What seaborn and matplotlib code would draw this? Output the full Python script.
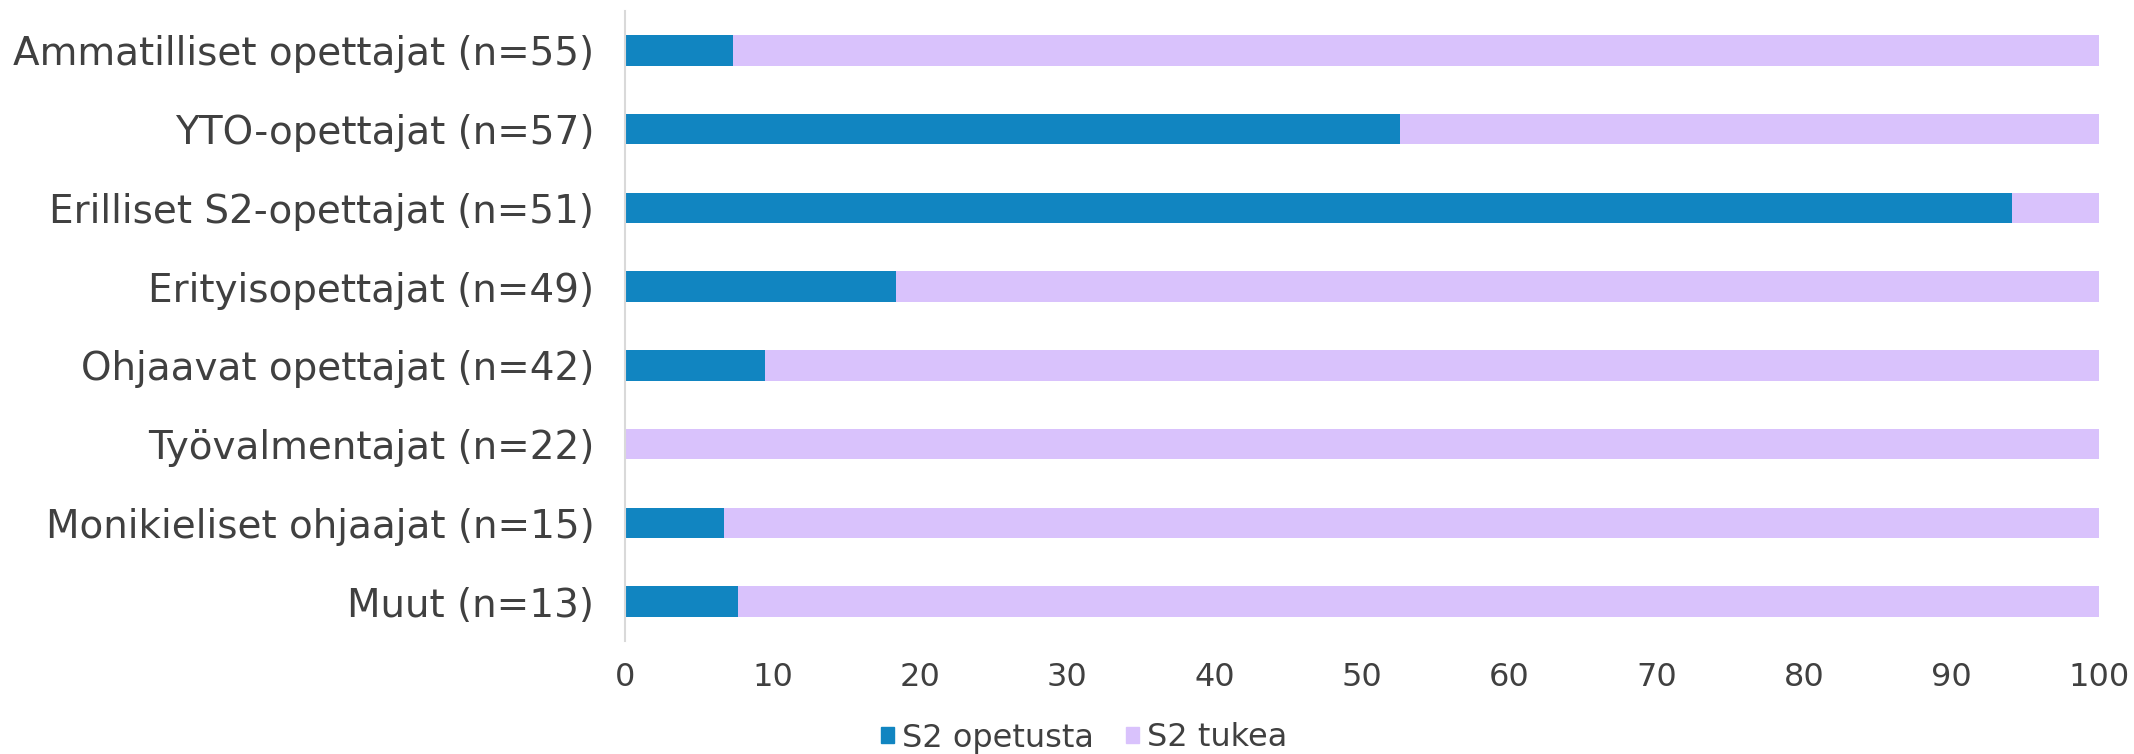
import pandas as pd
import seaborn as sns
import matplotlib.pyplot as plt
from matplotlib.patches import Patch

# shares (%)
ryhmat = ["Ammatilliset opettajat (n=55)", "YTO-opettajat (n=57)",
          "Erilliset S2-opettajat (n=51)", "Erityisopettajat (n=49)",
          "Ohjaavat opettajat (n=42)", "Työvalmentajat (n=22)",
          "Monikieliset ohjaajat (n=15)", "Muut (n=13)"]
s2_opetusta = [7.3, 52.6, 94.1, 18.4, 9.5, 0.0, 6.7, 7.7]
s2_tukea = [92.7, 47.4, 5.9, 81.6, 90.5, 100.0, 93.3, 92.3]

sininen = "#1185c1"
liila = "#d9c2fc"
teksti = "#404040"

df = pd.DataFrame({"ryhma": ryhmat, "opetusta": s2_opetusta, "tukea": s2_tukea})
df["yhteensa"] = df["opetusta"] + df["tukea"]

sns.set_style("white")
plt.rcParams['font.family'] = ['DejaVu Sans']

fig = plt.figure(figsize=(21.34, 7.54), dpi=100)
ax = fig.add_axes([625 / 2134, 113 / 754, 1474 / 2134, 630 / 754])

# stacked bars: full length first, then the blue part on top
sns.barplot(data=df, x="yhteensa", y="ryhma", color=liila, width=0.39,
            orient="h", ax=ax, saturation=1, linewidth=0)
sns.barplot(data=df, x="opetusta", y="ryhma", color=sininen, width=0.39,
            orient="h", ax=ax, saturation=1, linewidth=0)

ax.set_xlim(0, 100)
ax.set_xticks(range(0, 101, 10))
ax.set_xlabel("")
ax.set_ylabel("")
for s in ["top", "right", "bottom"]:
    ax.spines[s].set_visible(False)
ax.spines["left"].set_color("#d9d9d9")
ax.spines["left"].set_linewidth(1.5)
ax.tick_params(axis="y", length=0, pad=22, labelsize=28, labelcolor=teksti)
ax.tick_params(axis="x", length=0, pad=15, labelsize=23, labelcolor=teksti)

kasat = [Patch(color=sininen, label="S2 opetusta"), Patch(color=liila, label="S2 tukea")]
fig.legend(handles=kasat, loc="center", bbox_to_anchor=(0.508, 16 / 754), ncol=2,
           frameon=False, fontsize=23, handlelength=0.4, handleheight=0.4,
           handletextpad=0.25, columnspacing=1.0, labelcolor=teksti)

fig.savefig("out.png", dpi=100)
